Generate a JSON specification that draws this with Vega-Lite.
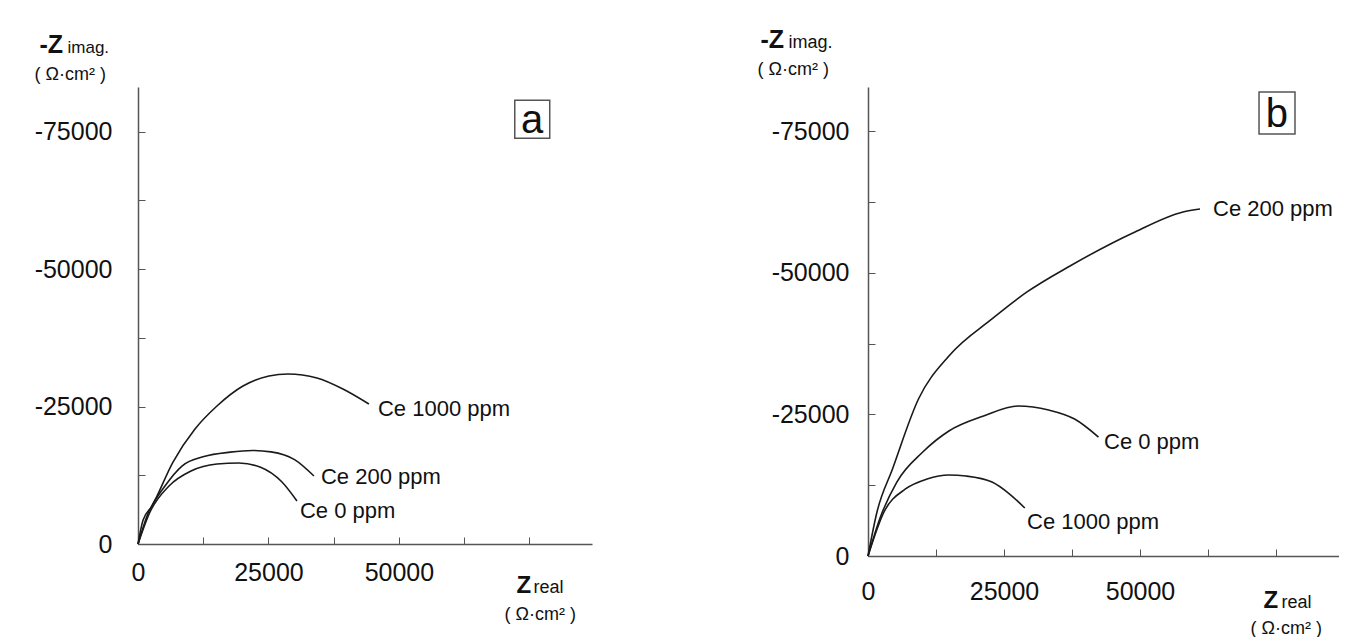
{
  "$schema": "https://vega.github.io/schema/vega-lite/v6.json",
  "padding": {"left": 34, "top": 27, "right": 0, "bottom": 0},
  "background": "white",
  "bounds": "flush",
  "spacing": 276,
  "config": {"view": {"stroke": null}, "font": "Liberation Sans"},
  "datasets": {
    "curves": [
      {"panel": "a", "series": "Ce 0 ppm", "zr": 0, "zi": 0},
      {"panel": "a", "series": "Ce 0 ppm", "zr": 2300, "zi": -5820},
      {"panel": "a", "series": "Ce 0 ppm", "zr": 5940, "zi": -10545},
      {"panel": "a", "series": "Ce 0 ppm", "zr": 10150, "zi": -13270},
      {"panel": "a", "series": "Ce 0 ppm", "zr": 15130, "zi": -14545},
      {"panel": "a", "series": "Ce 0 ppm", "zr": 19350, "zi": -14730},
      {"panel": "a", "series": "Ce 0 ppm", "zr": 23370, "zi": -14000},
      {"panel": "a", "series": "Ce 0 ppm", "zr": 27590, "zi": -11270},
      {"panel": "a", "series": "Ce 0 ppm", "zr": 30460, "zi": -7820},
      {"panel": "a", "series": "Ce 200 ppm", "zr": 0, "zi": 0},
      {"panel": "a", "series": "Ce 200 ppm", "zr": 1724, "zi": -5090},
      {"panel": "a", "series": "Ce 200 ppm", "zr": 5170, "zi": -10545},
      {"panel": "a", "series": "Ce 200 ppm", "zr": 8430, "zi": -14180},
      {"panel": "a", "series": "Ce 200 ppm", "zr": 12640, "zi": -15900},
      {"panel": "a", "series": "Ce 200 ppm", "zr": 17625, "zi": -16700},
      {"panel": "a", "series": "Ce 200 ppm", "zr": 22000, "zi": -17000},
      {"panel": "a", "series": "Ce 200 ppm", "zr": 25480, "zi": -16750},
      {"panel": "a", "series": "Ce 200 ppm", "zr": 30080, "zi": -15300},
      {"panel": "a", "series": "Ce 200 ppm", "zr": 33720, "zi": -12360},
      {"panel": "a", "series": "Ce 1000 ppm", "zr": 0, "zi": 0},
      {"panel": "a", "series": "Ce 1000 ppm", "zr": 958, "zi": -4300},
      {"panel": "a", "series": "Ce 1000 ppm", "zr": 2682, "zi": -6900},
      {"panel": "a", "series": "Ce 1000 ppm", "zr": 6705, "zi": -14900},
      {"panel": "a", "series": "Ce 1000 ppm", "zr": 10920, "zi": -20900},
      {"panel": "a", "series": "Ce 1000 ppm", "zr": 15130, "zi": -25090},
      {"panel": "a", "series": "Ce 1000 ppm", "zr": 20115, "zi": -28730},
      {"panel": "a", "series": "Ce 1000 ppm", "zr": 25100, "zi": -30545},
      {"panel": "a", "series": "Ce 1000 ppm", "zr": 28735, "zi": -30900},
      {"panel": "a", "series": "Ce 1000 ppm", "zr": 34290, "zi": -30180},
      {"panel": "a", "series": "Ce 1000 ppm", "zr": 39270, "zi": -28180},
      {"panel": "a", "series": "Ce 1000 ppm", "zr": 44250, "zi": -25450},
      {"panel": "b", "series": "Ce 1000 ppm", "zr": 0, "zi": 0},
      {"panel": "b", "series": "Ce 1000 ppm", "zr": 2940, "zi": -7770},
      {"panel": "b", "series": "Ce 1000 ppm", "zr": 6890, "zi": -11840},
      {"panel": "b", "series": "Ce 1000 ppm", "zr": 10850, "zi": -13600},
      {"panel": "b", "series": "Ce 1000 ppm", "zr": 14890, "zi": -14310},
      {"panel": "b", "series": "Ce 1000 ppm", "zr": 18010, "zi": -14130},
      {"panel": "b", "series": "Ce 1000 ppm", "zr": 22800, "zi": -13070},
      {"panel": "b", "series": "Ce 1000 ppm", "zr": 26030, "zi": -10950},
      {"panel": "b", "series": "Ce 1000 ppm", "zr": 28820, "zi": -8480},
      {"panel": "b", "series": "Ce 0 ppm", "zr": 0, "zi": 0},
      {"panel": "b", "series": "Ce 0 ppm", "zr": 2150, "zi": -6540},
      {"panel": "b", "series": "Ce 0 ppm", "zr": 5300, "zi": -13070},
      {"panel": "b", "series": "Ce 0 ppm", "zr": 10070, "zi": -18370},
      {"panel": "b", "series": "Ce 0 ppm", "zr": 14870, "zi": -22080},
      {"panel": "b", "series": "Ce 0 ppm", "zr": 21250, "zi": -24730},
      {"panel": "b", "series": "Ce 0 ppm", "zr": 27570, "zi": -26500},
      {"panel": "b", "series": "Ce 0 ppm", "zr": 33200, "zi": -25800},
      {"panel": "b", "series": "Ce 0 ppm", "zr": 37980, "zi": -24200},
      {"panel": "b", "series": "Ce 0 ppm", "zr": 42370, "zi": -21020},
      {"panel": "b", "series": "Ce 200 ppm", "zr": 0, "zi": 0},
      {"panel": "b", "series": "Ce 200 ppm", "zr": 1650, "zi": -7770},
      {"panel": "b", "series": "Ce 200 ppm", "zr": 4500, "zi": -15370},
      {"panel": "b", "series": "Ce 200 ppm", "zr": 9280, "zi": -27740},
      {"panel": "b", "series": "Ce 200 ppm", "zr": 14870, "zi": -35340},
      {"panel": "b", "series": "Ce 200 ppm", "zr": 22790, "zi": -41880},
      {"panel": "b", "series": "Ce 200 ppm", "zr": 29230, "zi": -46650},
      {"panel": "b", "series": "Ce 200 ppm", "zr": 37130, "zi": -51240},
      {"panel": "b", "series": "Ce 200 ppm", "zr": 49080, "zi": -57250},
      {"panel": "b", "series": "Ce 200 ppm", "zr": 57900, "zi": -60780},
      {"panel": "b", "series": "Ce 200 ppm", "zr": 61030, "zi": -61310}
    ],
    "labels": [
      {"panel": "a", "series": "Ce 1000 ppm", "lx": 45980, "ly": -24550},
      {"panel": "a", "series": "Ce 200 ppm", "lx": 35060, "ly": -12180},
      {"panel": "a", "series": "Ce 0 ppm", "lx": 31030, "ly": -6000},
      {"panel": "b", "series": "Ce 200 ppm", "lx": 63420, "ly": -61310},
      {"panel": "b", "series": "Ce 0 ppm", "lx": 43380, "ly": -20140},
      {"panel": "b", "series": "Ce 1000 ppm", "lx": 29230, "ly": -6010}
    ]
  },
  "hconcat": [
    {
      "width": 454,
      "height": 457,
      "resolve": {"scale": {"x": "independent", "y": "independent"}},
      "layer": [
        {
          "data": {"name": "curves"},
          "transform": [{"filter": "datum.panel === 'a'"}],
          "mark": {"type": "line", "interpolate": "monotone", "color": "#1a1a1a", "strokeWidth": 1.6},
          "encoding": {
            "x": {"field": "zr", "type": "quantitative",
              "scale": {"domain": [0, 87000], "nice": false, "zero": false},
              "axis": {"orient": "bottom", "values": [0, 12500, 25000, 37500, 50000, 62500, 75000],
                "labelExpr": "datum.value === 0 || datum.value === 25000 || datum.value === 50000 ? '' + datum.value : ''",
                "grid": false, "tickSize": -7, "tickColor": "#555", "domainColor": "#555", "domainWidth": 1.5,
                "labelFont": "Liberation Sans", "labelFontSize": 25, "labelColor": "#111", "labelPadding": 23,
                "labelFlush": false, "labelOverlap": false,
                "title": "Z", "titleFont": "Liberation Sans", "titleFontWeight": "bold", "titleFontSize": 24, "titleColor": "#111",
                "titleAlign": "left", "titleBaseline": "alphabetic", "titleX": 378, "titleY": 48}},
            "y": {"field": "zi", "type": "quantitative",
              "scale": {"domain": [0, -83100], "nice": false, "zero": false},
              "axis": {"orient": "left", "values": [0, -12500, -25000, -37500, -50000, -62500, -75000],
                "labelExpr": "datum.value % 25000 === 0 ? '' + datum.value : ''",
                "grid": false, "tickSize": -7, "tickColor": "#555", "domainColor": "#555", "domainWidth": 1.5,
                "labelFont": "Liberation Sans", "labelFontSize": 25, "labelColor": "#111", "labelPadding": 33,
                "labelFlush": false, "labelOverlap": false,
                "title": "-Z", "titleFont": "Liberation Sans", "titleFontWeight": "bold", "titleFontSize": 25, "titleColor": "#111",
                "titleAngle": 0, "titleAlign": "left", "titleBaseline": "alphabetic", "titleX": -99, "titleY": -35}},
            "detail": {"field": "series", "type": "nominal"}
          }
        },
        {
          "data": {"name": "labels"},
          "transform": [{"filter": "datum.panel === 'a'"}],
          "mark": {"type": "text", "align": "left", "baseline": "middle", "font": "Liberation Sans", "fontSize": 22, "color": "#111"},
          "encoding": {
            "x": {"field": "lx", "type": "quantitative",
              "scale": {"domain": [0, 87000], "nice": false, "zero": false},
              "axis": {"orient": "bottom", "labels": false, "ticks": false, "domain": false, "grid": false,
                "title": "real", "titleFont": "Liberation Sans", "titleFontWeight": "normal", "titleFontSize": 18, "titleColor": "#111",
                "titleAlign": "left", "titleBaseline": "alphabetic", "titleX": 395, "titleY": 48}},
            "y": {"field": "ly", "type": "quantitative",
              "scale": {"domain": [0, -83100], "nice": false, "zero": false},
              "axis": {"orient": "left", "labels": false, "ticks": false, "domain": false, "grid": false,
                "title": "imag.", "titleFont": "Liberation Sans", "titleFontWeight": "normal", "titleFontSize": 17, "titleColor": "#111",
                "titleAngle": 0, "titleAlign": "left", "titleBaseline": "alphabetic", "titleX": -71, "titleY": -35}},
            "text": {"field": "series", "type": "nominal"}
          }
        },
        {
          "data": {"values": [{}]},
          "layer": [
            {
              "mark": {"type": "rect", "fillOpacity": 0, "stroke": "#555", "strokeWidth": 1.5},
              "encoding": {
                "x": {"datum": 72200, "type": "quantitative",
                  "scale": {"domain": [0, 87000], "nice": false, "zero": false},
                  "axis": {"orient": "bottom", "labels": false, "ticks": false, "domain": false, "grid": false,
                    "title": "( Ω·cm² )", "titleFont": "Liberation Sans", "titleFontWeight": "normal", "titleFontSize": 18, "titleColor": "#111",
                    "titleAlign": "left", "titleBaseline": "alphabetic", "titleX": 366, "titleY": 75}},
                "x2": {"datum": 78900},
                "y": {"datum": -80700, "type": "quantitative",
                  "scale": {"domain": [0, -83100], "nice": false, "zero": false},
                  "axis": {"orient": "left", "labels": false, "ticks": false, "domain": false, "grid": false,
                    "title": "( Ω·cm² )", "titleFont": "Liberation Sans", "titleFontWeight": "normal", "titleFontSize": 18, "titleColor": "#111",
                    "titleAngle": 0, "titleAlign": "left", "titleBaseline": "alphabetic", "titleX": -104, "titleY": -8}},
                "y2": {"datum": -73800}
              }
            },
            {
              "mark": {"type": "text", "align": "center", "baseline": "middle", "font": "Liberation Sans", "fontSize": 40, "color": "#111"},
              "encoding": {
                "x": {"datum": 75550, "type": "quantitative"},
                "y": {"datum": -77000, "type": "quantitative"},
                "text": {"value": "a"}
              }
            }
          ]
        }
      ]
    },
    {
      "width": 471,
      "height": 469,
      "resolve": {"scale": {"x": "independent", "y": "independent"}},
      "layer": [
        {
          "data": {"name": "curves"},
          "transform": [{"filter": "datum.panel === 'b'"}],
          "mark": {"type": "line", "interpolate": "monotone", "color": "#1a1a1a", "strokeWidth": 1.6},
          "encoding": {
            "x": {"field": "zr", "type": "quantitative",
              "scale": {"domain": [0, 86580], "nice": false, "zero": false},
              "axis": {"orient": "bottom", "values": [0, 12500, 25000, 37500, 50000, 62500, 75000],
                "labelExpr": "datum.value === 0 || datum.value === 25000 || datum.value === 50000 ? '' + datum.value : ''",
                "grid": false, "tickSize": -7, "tickColor": "#555", "domainColor": "#555", "domainWidth": 1.5,
                "labelFont": "Liberation Sans", "labelFontSize": 25, "labelColor": "#111", "labelPadding": 30,
                "labelFlush": false, "labelOverlap": false,
                "title": "Z", "titleFont": "Liberation Sans", "titleFontWeight": "bold", "titleFontSize": 24, "titleColor": "#111",
                "titleAlign": "left", "titleBaseline": "alphabetic", "titleX": 395, "titleY": 51}},
            "y": {"field": "zi", "type": "quantitative",
              "scale": {"domain": [0, -82860], "nice": false, "zero": false},
              "axis": {"orient": "left", "values": [0, -12500, -25000, -37500, -50000, -62500, -75000],
                "labelExpr": "datum.value % 25000 === 0 ? '' + datum.value : ''",
                "grid": false, "tickSize": -7, "tickColor": "#555", "domainColor": "#555", "domainWidth": 1.5,
                "labelFont": "Liberation Sans", "labelFontSize": 25, "labelColor": "#111", "labelPadding": 26,
                "labelFlush": false, "labelOverlap": false,
                "title": "-Z", "titleFont": "Liberation Sans", "titleFontWeight": "bold", "titleFontSize": 25, "titleColor": "#111",
                "titleAngle": 0, "titleAlign": "left", "titleBaseline": "alphabetic", "titleX": -108, "titleY": -40}},
            "detail": {"field": "series", "type": "nominal"}
          }
        },
        {
          "data": {"name": "labels"},
          "transform": [{"filter": "datum.panel === 'b'"}],
          "mark": {"type": "text", "align": "left", "baseline": "middle", "font": "Liberation Sans", "fontSize": 22, "color": "#111"},
          "encoding": {
            "x": {"field": "lx", "type": "quantitative",
              "scale": {"domain": [0, 86580], "nice": false, "zero": false},
              "axis": {"orient": "bottom", "labels": false, "ticks": false, "domain": false, "grid": false,
                "title": "real", "titleFont": "Liberation Sans", "titleFontWeight": "normal", "titleFontSize": 18, "titleColor": "#111",
                "titleAlign": "left", "titleBaseline": "alphabetic", "titleX": 413, "titleY": 51}},
            "y": {"field": "ly", "type": "quantitative",
              "scale": {"domain": [0, -82860], "nice": false, "zero": false},
              "axis": {"orient": "left", "labels": false, "ticks": false, "domain": false, "grid": false,
                "title": "imag.", "titleFont": "Liberation Sans", "titleFontWeight": "normal", "titleFontSize": 18, "titleColor": "#111",
                "titleAngle": 0, "titleAlign": "left", "titleBaseline": "alphabetic", "titleX": -80, "titleY": -40}},
            "text": {"field": "series", "type": "nominal"}
          }
        },
        {
          "data": {"values": [{}]},
          "layer": [
            {
              "mark": {"type": "rect", "fillOpacity": 0, "stroke": "#555", "strokeWidth": 1.5},
              "encoding": {
                "x": {"datum": 71880, "type": "quantitative",
                  "scale": {"domain": [0, 86580], "nice": false, "zero": false},
                  "axis": {"orient": "bottom", "labels": false, "ticks": false, "domain": false, "grid": false,
                    "title": "( Ω·cm² )", "titleFont": "Liberation Sans", "titleFontWeight": "normal", "titleFontSize": 18, "titleColor": "#111",
                    "titleAlign": "left", "titleBaseline": "alphabetic", "titleX": 382, "titleY": 77}},
                "x2": {"datum": 78490},
                "y": {"datum": -81980, "type": "quantitative",
                  "scale": {"domain": [0, -82860], "nice": false, "zero": false},
                  "axis": {"orient": "left", "labels": false, "ticks": false, "domain": false, "grid": false,
                    "title": "( Ω·cm² )", "titleFont": "Liberation Sans", "titleFontWeight": "normal", "titleFontSize": 18, "titleColor": "#111",
                    "titleAngle": 0, "titleAlign": "left", "titleBaseline": "alphabetic", "titleX": -111, "titleY": -13}},
                "y2": {"datum": -74560}
              }
            },
            {
              "mark": {"type": "text", "align": "center", "baseline": "middle", "font": "Liberation Sans", "fontSize": 40, "color": "#111"},
              "encoding": {
                "x": {"datum": 75180, "type": "quantitative"},
                "y": {"datum": -78000, "type": "quantitative"},
                "text": {"value": "b"}
              }
            }
          ]
        }
      ]
    }
  ]
}
